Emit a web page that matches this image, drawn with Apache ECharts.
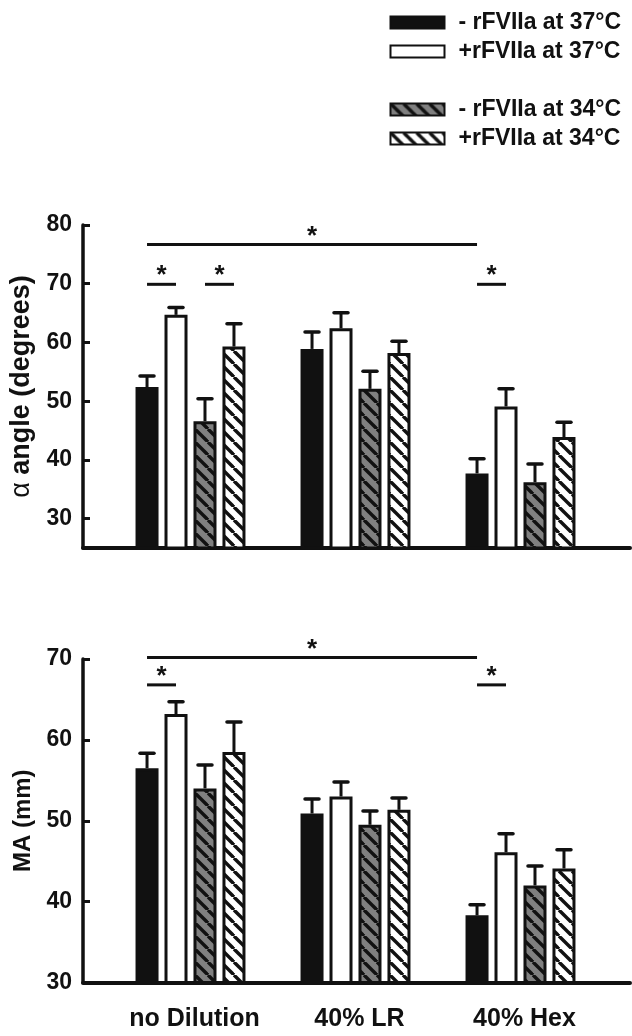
<!DOCTYPE html>
<html><head><meta charset="utf-8">
<script src="https://cdn.jsdelivr.net/npm/echarts@6/dist/echarts.min.js"></script>
<style>html,body{margin:0;padding:0;background:#fff}#c{width:632px;height:1036px}</style>
</head><body><div id="c"></div>
<script>
// ---------- data ----------
const categories = ['no Dilution', '40% LR', '40% Hex'];
const seriesNames = ['- rFVIIa at 37°C', '+rFVIIa at 37°C', '- rFVIIa at 34°C', '+rFVIIa at 34°C'];

// alpha angle (degrees): means and upper error (SEM)
const angleMinus37 = [52.4, 58.9, 37.7];
const anglePlus37  = [64.7, 62.4, 49.1];
const angleMinus34 = [46.6, 52.1, 36.2];
const anglePlus34  = [59.3, 58.2, 43.9];
const angleErrMinus37 = [1.9, 2.9, 2.5];
const angleErrPlus37  = [1.25, 2.65, 3.0];
const angleErrMinus34 = [3.8, 3.0, 3.1];
const angleErrPlus34  = [3.9, 2.0, 2.5];

// MA (mm)
const maMinus37 = [56.5, 50.9, 38.3];
const maPlus37  = [63.2, 53.0, 46.1];
const maMinus34 = [54.0, 49.5, 42.0];
const maPlus34  = [58.5, 51.35, 44.1];
const maErrMinus37 = [1.85, 1.8, 1.3];
const maErrPlus37  = [1.5, 1.8, 2.3];
const maErrMinus34 = [2.9, 1.7, 2.4];
const maErrPlus34  = [3.7, 1.45, 2.3];

// significance brackets: [fromCategory, fromBar, toCategory, toBar, yValue]
const angleSig = [[0, 0, 2, 0, 76.7], [0, 0, 0, 1, 69.9], [0, 2, 0, 3, 69.9], [2, 0, 2, 1, 69.9]];
const maSig    = [[0, 0, 2, 0, 70.2], [0, 0, 0, 1, 66.8], [2, 0, 2, 1, 66.8]];

// axis ticks
const angleTicks = [30, 40, 50, 60, 70, 80];
const maTicks = [30, 40, 50, 60, 70];

// ---------- styles ----------
const FONT = '"Liberation Sans", Arial, Helvetica, sans-serif';
const INK = '#111';
const barWidth = 23, barGapPct = 26;
const pitch = barWidth * (1 + barGapPct / 100);

function hatch(bg) {
  const s = 13;
  const cv = document.createElement('canvas');
  cv.width = s; cv.height = s;
  const ctx = cv.getContext('2d');
  ctx.fillStyle = bg; ctx.fillRect(0, 0, s, s);
  ctx.strokeStyle = INK; ctx.lineWidth = 3.4;
  for (let k = -1; k <= 1; k++) {
    ctx.beginPath(); ctx.moveTo(k * s, 0); ctx.lineTo(k * s + s, s); ctx.stroke();
  }
  return { image: cv, repeat: 'repeat' };
}
const fills = [INK, '#ffffff', hatch('#808080'), hatch('#ffffff')];

function errRender(k) {
  return function (params, api) {
    const c = api.value(0), m = api.value(1), e = api.value(2);
    const base = api.coord([c, m]);
    const top = api.coord([c, m + e]);
    const x = base[0] + (k - 1.5) * pitch;
    return { type: 'group', children: [
      { type: 'line', shape: { x1: x, y1: base[1], x2: x, y2: top[1] }, style: { stroke: INK, lineWidth: 3 } },
      { type: 'line', shape: { x1: x - 7, y1: top[1], x2: x + 7, y2: top[1] }, style: { stroke: INK, lineWidth: 3.5, lineCap: 'round' } }
    ] };
  };
}
function sigRender(params, api) {
  const c1 = api.value(0), k1 = api.value(1), c2 = api.value(2), k2 = api.value(3), y = api.value(4);
  const p1 = api.coord([c1, y]), p2 = api.coord([c2, y]);
  const x1 = p1[0] + (k1 - 1.5) * pitch, x2 = p2[0] + (k2 - 1.5) * pitch;
  return { type: 'group', children: [
    { type: 'line', shape: { x1: x1, y1: p1[1], x2: x2, y2: p1[1] }, style: { stroke: INK, lineWidth: 3 } },
    { type: 'text', style: { text: '*', x: (x1 + x2) / 2, y: p1[1] + 5, align: 'center', verticalAlign: 'bottom',
      font: 'bold 26px ' + FONT, fill: INK } }
  ] };
}

const angleMeans = [angleMinus37, anglePlus37, angleMinus34, anglePlus34];
const angleErrs = [angleErrMinus37, angleErrPlus37, angleErrMinus34, angleErrPlus34];
const maMeans = [maMinus37, maPlus37, maMinus34, maPlus34];
const maErrs = [maErrMinus37, maErrPlus37, maErrMinus34, maErrPlus34];

const grids = [
  { left: 83, right: 2, top: 225, height: 323 },
  { left: 108, width: 495, top: 225, height: 323 },
  { left: 83, right: 2, top: 659, height: 323.5 },
  { left: 108, width: 495, top: 659, height: 323.5 }
];

function frameX(gi) {
  return { type: 'value', gridIndex: gi, min: 0, max: 1, axisLine: { show: true, lineStyle: { color: INK, width: 4 } },
    axisTick: { show: false }, axisLabel: { show: false }, splitLine: { show: false } };
}
function barX(gi, showLabels) {
  return { type: 'category', gridIndex: gi, data: categories, axisLine: { show: false }, axisTick: { show: false },
    axisLabel: { show: showLabels, interval: 0, hideOverlap: false, color: INK, fontFamily: FONT, fontWeight: 'bold',
      fontSize: 25, margin: 24, padding: [0, 0, 0, 8] },
    splitLine: { show: false } };
}
function frameY(gi, min, max, ticks, name, gap, nameSize) {
  return { type: 'value', gridIndex: gi, min: min, max: max, name: name, nameLocation: 'middle', nameGap: gap,
    nameTextStyle: { color: INK, fontFamily: FONT, fontWeight: 'bold', fontSize: nameSize,
      rich: { a: { color: INK, fontFamily: FONT, fontWeight: 'normal', fontSize: nameSize } } },
    axisLine: { show: true, lineStyle: { color: INK, width: 3.5 } },
    axisTick: { show: true, inside: true, length: 7, lineStyle: { color: INK, width: 3 }, customValues: ticks },
    axisLabel: { show: true, color: INK, fontFamily: FONT, fontWeight: 'bold', fontSize: 23, margin: 11, customValues: ticks },
    splitLine: { show: false } };
}
function hiddenY(gi, min, max) {
  return { type: 'value', gridIndex: gi, min: min, max: max, show: false, splitLine: { show: false } };
}

const series = [];
function addChart(means, errs, sig, axisIdx) {
  means.forEach((vals, k) => {
    series.push({ type: 'bar', name: seriesNames[k], xAxisIndex: axisIdx, yAxisIndex: axisIdx, data: vals,
      barWidth: barWidth, barGap: barGapPct + '%',
      itemStyle: { color: fills[k], borderColor: INK, borderWidth: 3 }, emphasis: { disabled: true }, animation: false });
  });
  means.forEach((vals, k) => {
    series.push({ type: 'custom', xAxisIndex: axisIdx, yAxisIndex: axisIdx, renderItem: errRender(k), z: 5,
      data: vals.map((v, i) => [i, v, errs[k][i]]), animation: false, silent: true });
  });
  series.push({ type: 'custom', xAxisIndex: axisIdx, yAxisIndex: axisIdx, renderItem: sigRender, z: 6,
    data: sig, animation: false, silent: true, clip: false });
}
addChart(angleMeans, angleErrs, angleSig, 1);
addChart(maMeans, maErrs, maSig, 3);

const legendCommon = { orient: 'vertical', left: 389.5, padding: 0, itemWidth: 54, itemHeight: 12, itemGap: 6, icon: 'rect',
  selectedMode: false, textStyle: { color: INK, fontFamily: FONT, fontWeight: 'bold', fontSize: 23, padding: [0, 0, 0, 9] } };

const option = {
  backgroundColor: '#fff',
  animation: false,
  legend: [
    Object.assign({}, legendCommon, { top: 11, data: [seriesNames[0], seriesNames[1]] }),
    Object.assign({}, legendCommon, { top: 98, data: [seriesNames[2], seriesNames[3]] })
  ],
  grid: grids,
  xAxis: [frameX(0), barX(1, false), frameX(2), barX(3, true)],
  yAxis: [frameY(0, 25, 80, angleTicks, '{a|α} angle (degrees)', 45, 27), hiddenY(1, 25, 80),
          frameY(2, 30, 70, maTicks, 'MA (mm)', 47, 24), hiddenY(3, 30, 70)],
  series: series
};
const chart = echarts.init(document.getElementById('c'), null, { renderer: 'canvas' });
chart.setOption(option);
</script></body></html>
